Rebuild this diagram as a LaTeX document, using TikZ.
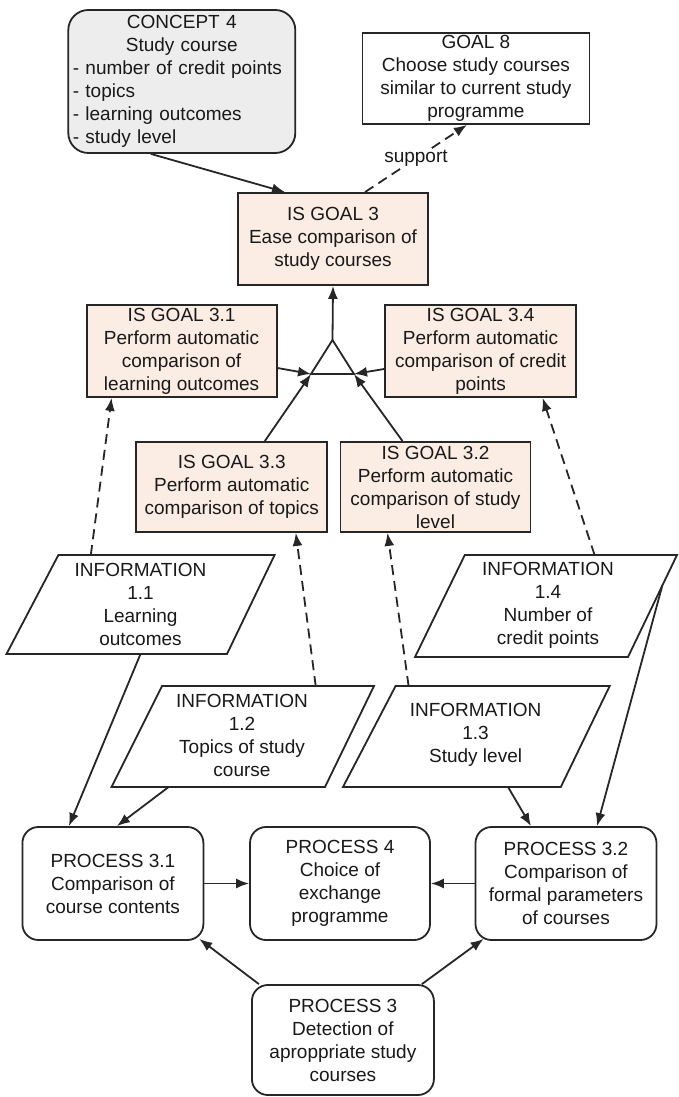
\documentclass[tikz,border=0pt]{standalone}
\usepackage{fontspec}
\setmainfont{Liberation Sans}
\usetikzlibrary{arrows.meta,calc}
\definecolor{peach}{HTML}{FBEDE3}
\definecolor{cgray}{HTML}{EDEDED}
\definecolor{lncol}{HTML}{262626}
\begin{document}
\begin{tikzpicture}[x=1pt,y=-1pt,
  every node/.style={font=\fontsize{19}{23}\selectfont, text=black!90},
  box/.style={draw=lncol, line width=1.8pt, inner sep=0pt, align=center},
  isgoal/.style={box, fill=peach},
  goalbox/.style={box, fill=white},
  procbox/.style={box, fill=white, rounded corners=16pt},
  concbox/.style={box, fill=cgray, rounded corners=20pt},
  infotext/.style={inner sep=0pt, align=center},
  para/.style={draw=lncol, line width=1.8pt, fill=white},
  conn/.style={draw=lncol, line width=1.8pt, -{Latex[length=13pt,width=10pt]}},
  dconn/.style={conn, dash pattern=on 10pt off 6pt},
  plain/.style={draw=lncol, line width=1.8pt}
]
\useasboundingbox (0,0) rectangle (678,1097);

% CONCEPT 4
\node[concbox, minimum width=227pt, minimum height=143pt, text width=218pt, align=left] (concept) at (181.8,81.5)
  {{\centering CONCEPT 4\\Study course\par}- number of credit points\\- topics\\- learning outcomes\\- study level};

% GOAL 8
\node[goalbox, minimum width=227pt, minimum height=91pt] (goal8) at (475.9,78.5)
  {GOAL 8\\Choose study courses\\similar to current study\\programme};

% IS GOALS
\node[isgoal, minimum width=190pt, minimum height=92pt] (g3) at (333,239)
  {IS GOAL 3\\Ease comparison of\\study courses};
\node[isgoal, minimum width=190pt, minimum height=92pt] (g31) at (181.6,351)
  {IS GOAL 3.1\\Perform automatic\\comparison of\\learning outcomes};
\node[isgoal, minimum width=191pt, minimum height=92pt] (g34) at (480.6,351)
  {IS GOAL 3.4\\Perform automatic\\comparison of credit\\points};
\node[isgoal, minimum width=191pt, minimum height=90pt] (g33) at (231.8,487)
  {IS GOAL 3.3\\Perform automatic\\comparison of topics};
\node[isgoal, minimum width=190pt, minimum height=90pt] (g32) at (435.5,487)
  {IS GOAL 3.2\\Perform automatic\\comparison of study\\level};

% AND junction
\coordinate (apex) at (332.5,340);
\coordinate (bl) at (311,374);
\coordinate (br) at (354,374);
\draw[plain] (bl) -- (apex) -- (br) -- cycle;

% INFORMATION parallelograms
\draw[para] (58.4,555) -- (274.6,555) -- (227,654) -- (6.5,654) -- cycle;
\node[infotext] (i11) at (140.5,604) {INFORMATION\\1.1\\Learning\\outcomes};

\draw[para] (464.8,555) -- (677,555) coordinate (i14tr) -- (628,657) coordinate (i14br) -- (415,657) -- cycle;
\node[infotext] (i14) at (548,605) {INFORMATION\\1.4\\Number of\\credit points};

\draw[para] (162,686) -- (374,686) -- (325,787) -- (111.6,787) -- cycle;
\node[infotext] (i12) at (242,735) {INFORMATION\\1.2\\Topics of study\\course};

\draw[para] (395.6,686) -- (609.7,686) -- (560.8,787) -- (343,787) -- cycle;
\node[infotext] (i13) at (475.6,735) {INFORMATION\\1.3\\Study level};

% named connector ends on parallelogram edges
\coordinate (i11top) at (90.8,555);
\coordinate (i11bot) at (140.5,654);
\coordinate (i14top) at (594.6,555);
\coordinate (i14side) at ($(i14tr)!0.3!(i14br)$);
\coordinate (i12top) at (315.7,686);
\coordinate (i12bot) at (168.6,787);
\coordinate (i13top) at (408.6,686);
\coordinate (i13bot) at (508,787);

% PROCESSES
\node[procbox, minimum width=181pt, minimum height=113pt] (p31) at (112.9,883.5)
  {PROCESS 3.1\\Comparison of\\course contents};
\node[procbox, minimum width=180pt, minimum height=113pt] (p4) at (340,883.5)
  {PROCESS 4\\Choice of\\exchange\\programme};
\node[procbox, minimum width=181pt, minimum height=113pt] (p32) at (566,883.5)
  {PROCESS 3.2\\Comparison of\\formal parameters\\of courses};
\node[procbox, minimum width=182pt, minimum height=110pt] (p3) at (342.9,1040)
  {PROCESS 3\\Detection of\\aproppriate study\\courses};

% connectors top
\draw[conn] ([xshift=-31pt]concept.south) -- ([xshift=-48pt]g3.north);
\draw[dconn] ([xshift=32pt]g3.north) -- node[fill=white, inner sep=1pt, pos=0.5] {support} ([xshift=-9pt]goal8.south);

% AND refinement
\draw[conn] (apex) -- (g3.south);
\draw[conn] ([yshift=-17pt]g31.east) -- (bl);
\draw[conn] ([yshift=-18pt]g34.west) -- (br);
\draw[conn] ([xshift=33pt]g33.north) -- (bl);
\draw[conn] ([xshift=-33pt]g32.north) -- (br);

% dashed information links
\draw[dconn] (i11top) -- ([xshift=-70pt]g31.south);
\draw[dconn] (i12top) -- ([xshift=64pt]g33.south);
\draw[dconn] (i13top) -- ([xshift=-48pt]g32.south);
\draw[dconn] (i14top) -- ([xshift=62pt]g34.south);

% information to processes
\draw[conn] (i11bot) -- ([xshift=-44pt]p31.north);
\draw[conn] (i12bot) -- ([xshift=4pt]p31.north);
\draw[conn] (i13bot) -- ([xshift=-35pt]p32.north);
\draw[conn] (i14side) -- ([xshift=31pt]p32.north);

% processes
\draw[conn] (p31.east) -- (p4.west);
\draw[conn] (p32.west) -- (p4.east);
\draw[conn] ([xshift=-84pt]p3.north) -- ([xshift=-5pt,yshift=2pt]p31.south east);
\draw[conn] ([xshift=79pt]p3.north) -- ([xshift=9pt,yshift=2pt]p32.south west);
\end{tikzpicture}
\end{document}
